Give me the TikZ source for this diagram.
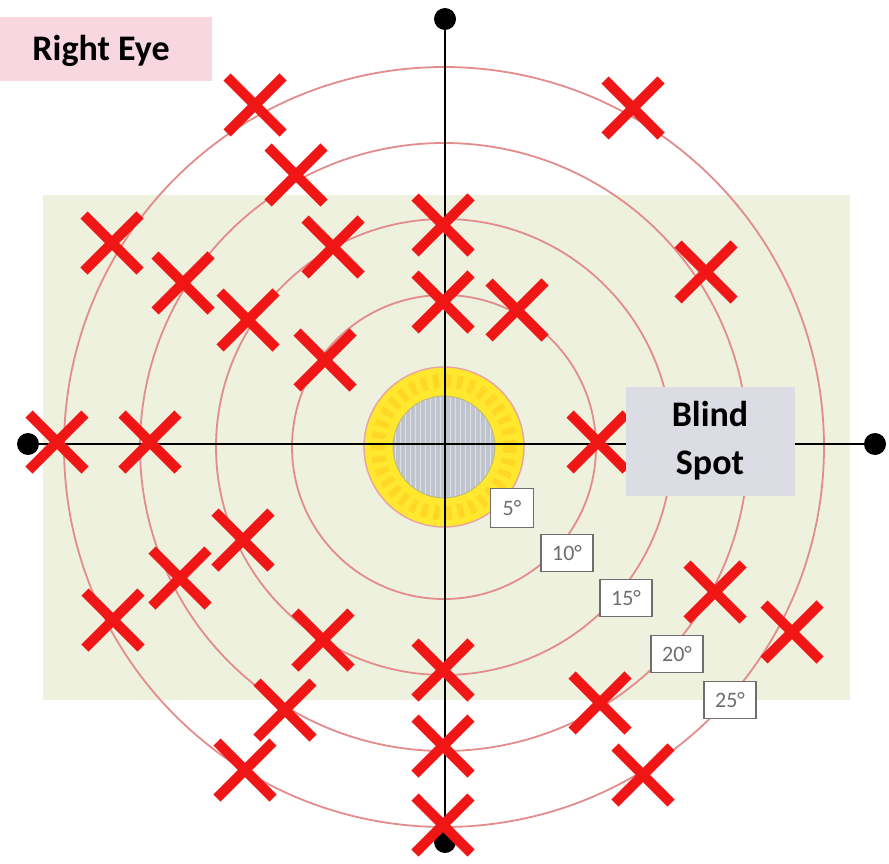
\documentclass[tikz,border=0pt]{standalone}
\usepackage{fontspec}
\setmainfont{Carlito}
\usetikzlibrary{shapes.misc}
\definecolor{bggreen}{RGB}{237,241,222}
\definecolor{ringred}{RGB}{228,140,140}
\definecolor{xred}{RGB}{240,22,22}
\definecolor{pinkbg}{RGB}{248,215,225}
\definecolor{spotbg}{RGB}{220,220,228}
\definecolor{ringyellow}{RGB}{255,232,45}
\definecolor{fovgray}{RGB}{192,196,206}
\definecolor{labgray}{RGB}{110,110,110}
\begin{document}
\begin{tikzpicture}[x=1pt,y=-1pt,
  ring/.style={draw=ringred,line width=1.8pt},
  xmark/.style={cross out,draw=xred,line width=10pt,minimum size=46pt,inner sep=0pt,line cap=butt},
  axdot/.style={circle,fill=black,minimum size=22pt,inner sep=0pt},
  degbox/.style={draw=labgray,line width=1.6pt,fill=white,minimum width=52pt,minimum height=37pt,inner sep=0pt,text=labgray,font=\fontsize{22}{24}\selectfont},
  titlebox/.style={font=\bfseries\fontsize{36}{48}\selectfont,align=center,inner sep=0pt}]
\useasboundingbox (0,0) rectangle (889,864);
\fill[white] (0,0) rectangle (889,864);
\fill[bggreen] (43,195) rectangle (850,700);
\coordinate (O) at (444,447);
% rings
\draw[ring] (O) circle (152);
\draw[ring] (O) circle (228);
\draw[ring] (O) circle (304);
\draw[ring] (O) circle (380);
% central 5 degree zone
\fill[ringyellow] (O) circle (80);
\draw[ringyellow!85!orange,line width=14pt,dash pattern=on 6pt off 6pt] (O) circle (66);
\draw[draw=ringred!80,line width=1.4pt] (O) circle (80);
\begin{scope}
\clip (O) circle (51);
\fill[fovgray] (O) circle (51);
\draw[white!45!fovgray,line width=0.35pt,step=5] (390,390) grid (500,500);
\end{scope}
\draw[gray!60!yellow,line width=0.8pt] (O) circle (51);
% axes
\node[axdot] (top) at (445,19) {};
\node[axdot] (bot) at (445,842) {};
\node[axdot] (lft) at (28,444) {};
\node[axdot] (rgt) at (875,444) {};
\draw[black,line width=2.6pt] (lft) -- (rgt);
\draw[black,line width=2.6pt] (top) -- (bot);
% degree labels
\node[degbox,minimum width=43pt,minimum height=39pt] (d5) at (512,508) {5°};
\node[degbox] (d10) at (567,553) {10°};
\node[degbox] (d15) at (626,598) {15°};
\node[degbox] (d20) at (677,654) {20°};
\node[degbox] (d25) at (730,700) {25°};
% crosses
\node[xmark] (x1) at (255,105) {};
\node[xmark] (x2) at (633,108) {};
\node[xmark] (x3) at (296,175) {};
\node[xmark] (x4) at (443,225) {};
\node[xmark] (x5) at (112,243) {};
\node[xmark] (x6) at (333,247) {};
\node[xmark] (x7) at (183,283) {};
\node[xmark] (x8) at (706,272) {};
\node[xmark] (x9) at (443,302) {};
\node[xmark] (x10) at (517,310) {};
\node[xmark] (x11) at (248,320) {};
\node[xmark] (x12) at (325,360) {};
\node[xmark] (x13) at (57,442) {};
\node[xmark] (x14) at (150,442) {};
\node[xmark] (x15) at (598,442) {};
\node[xmark] (x16) at (243,540) {};
\node[xmark] (x17) at (180,578) {};
\node[xmark] (x18) at (113,620) {};
\node[xmark] (x19) at (715,592) {};
\node[xmark] (x20) at (792,632) {};
\node[xmark] (x21) at (323,640) {};
\node[xmark] (x22) at (443,670) {};
\node[xmark] (x23) at (285,710) {};
\node[xmark] (x24) at (600,703) {};
\node[xmark] (x25) at (443,746) {};
\node[xmark] (x26) at (245,770) {};
\node[xmark] (x27) at (643,775) {};
\node[xmark] (x28) at (443,825) {};
% title boxes
\node[fill=pinkbg,minimum width=212pt,minimum height=64pt,inner sep=0pt] (eye) at (106,49) {};
\node[titlebox] (eyet) at (101,51) {Right Eye};
\node[fill=spotbg,minimum width=169pt,minimum height=109pt,inner sep=0pt] (spot) at (710,441) {};
\node[titlebox] (spott) at (710,441) {Blind\\Spot};
\end{tikzpicture}
\end{document}
